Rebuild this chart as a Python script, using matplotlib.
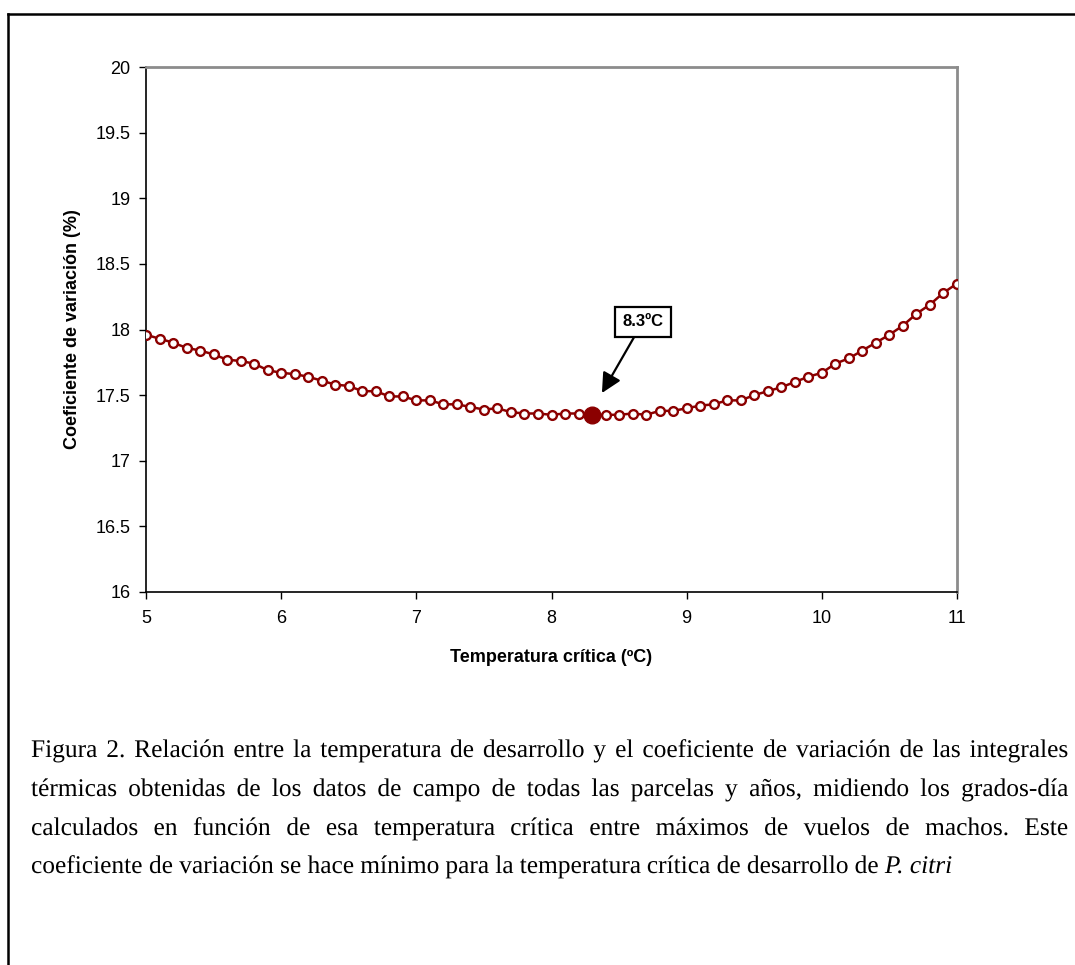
import matplotlib
matplotlib.use("Agg")
import matplotlib.pyplot as plt
import matplotlib.patheffects as pe
from matplotlib.lines import Line2D
from matplotlib.ticker import FuncFormatter
import numpy as np

# critical temperature (ºC) and coefficient of variation (%) of the thermal integrals
temp = [5.0, 5.1, 5.2, 5.3, 5.4, 5.5, 5.6, 5.7, 5.8, 5.9,
        6.0, 6.1, 6.2, 6.3, 6.4, 6.5, 6.6, 6.7, 6.8, 6.9,
        7.0, 7.1, 7.2, 7.3, 7.4, 7.5, 7.6, 7.7, 7.8, 7.9,
        8.0, 8.1, 8.2, 8.3, 8.4, 8.5, 8.6, 8.7, 8.8, 8.9,
        9.0, 9.1, 9.2, 9.3, 9.4, 9.5, 9.6, 9.7, 9.8, 9.9,
        10.0, 10.1, 10.2, 10.3, 10.4, 10.5, 10.6, 10.7, 10.8, 10.9, 11.0]
cv = [17.96, 17.93, 17.90, 17.86, 17.84, 17.81, 17.77, 17.76, 17.74, 17.69,
      17.67, 17.66, 17.64, 17.61, 17.58, 17.57, 17.53, 17.53, 17.49, 17.49,
      17.46, 17.46, 17.43, 17.43, 17.41, 17.39, 17.40, 17.37, 17.36, 17.36,
      17.35, 17.36, 17.36, 17.35, 17.35, 17.35, 17.36, 17.35, 17.38, 17.38,
      17.40, 17.42, 17.43, 17.46, 17.46, 17.50, 17.53, 17.56, 17.60, 17.64,
      17.67, 17.74, 17.78, 17.84, 17.90, 17.96, 18.03, 18.12, 18.19, 18.28, 18.35]

# minimum of the curve
t_min = 8.3
cv_min = 17.35

xticks = [5, 6, 7, 8, 9, 10, 11]
yticks = [16, 16.5, 17, 17.5, 18, 18.5, 19, 19.5, 20]

caption = [
    "Figura 2. Relación entre la temperatura de desarrollo y el coeficiente de variación de las integrales",
    "térmicas obtenidas de los datos de campo de todas las parcelas y años, midiendo los grados-día",
    "calculados en función de esa temperatura crítica entre máximos de vuelos de machos. Este",
]
caption_last = "coeficiente de variación se hace mínimo para la temperatura crítica de desarrollo de"
caption_species = "P. citri"

red = "#8B0000"

fig = plt.figure(figsize=(10.75, 9.65), dpi=100)
W, H = 1075, 965
ax = fig.add_axes([146 / W, 1 - 592 / H, (957 - 146) / W, (592 - 67) / H])

ax.plot(temp, cv, color=red, lw=1.8, marker="o", ms=6.3, mfc="white",
        mec=red, mew=1.7, zorder=3)
ax.plot([t_min], [cv_min], "o", color=red, ms=12, zorder=4)

ax.annotate("8.3ºC", xy=(8.373, 17.516), xytext=(8.677, 18.06),
            ha="center", va="center", fontsize=12, fontweight="bold",
            family="Liberation Sans",
            bbox=dict(boxstyle="square,pad=0.45", fc="white", ec="black", lw=1.6),
            arrowprops=dict(arrowstyle="-|>", color="black", lw=1.6,
                            mutation_scale=30, shrinkA=0, shrinkB=0))

ax.set_xlim(5, 11)
ax.set_ylim(16, 20)
ax.set_xticks(xticks)
ax.set_yticks(yticks)
ax.yaxis.set_major_formatter(FuncFormatter(lambda v, p: "%g" % v))
ax.tick_params(direction="out", length=5, width=1, labelsize=13, pad=6)
ax.tick_params(axis="x", pad=8)
for lab in ax.get_xticklabels() + ax.get_yticklabels():
    lab.set_family("Liberation Sans")

for side in ("top", "right"):
    ax.spines[side].set_color("#8c8c8c")
    ax.spines[side].set_linewidth(2)
for side in ("left", "bottom"):
    ax.spines[side].set_color("black")
    ax.spines[side].set_linewidth(1.2)

ax.set_xlabel("Temperatura crítica (ºC)", fontsize=13, fontweight="bold",
              family="Liberation Sans")
ax.set_ylabel("Coeficiente de variación (%)", fontsize=13, fontweight="bold",
              family="Liberation Sans")
ax.xaxis.set_label_coords(0.5, -0.108)
ax.yaxis.set_label_coords(-0.080, 0.5)

# page frame lines
fig.add_artist(Line2D([8 / W, 1], [1 - 14 / H, 1 - 14 / H], color="black", lw=1.8,
                      transform=fig.transFigure))
fig.add_artist(Line2D([8 / W, 8 / W], [1 - 14 / H, 0], color="black", lw=1.8,
                      transform=fig.transFigure))

# justified caption, one Text per word; drawn as paths so all words share a baseline
renderer = fig.canvas.get_renderer()
cap_size = 18.3
left, right = 31, 1068
space = 0.25 * cap_size * 100 / 72


def put_line(words, y_px, justify):
    arts = []
    for w, style in words:
        arts.append(fig.text(0, 1 - y_px / H, w, fontsize=cap_size,
                             family="Liberation Serif", style=style,
                             va="baseline", ha="left",
                             path_effects=[pe.Normal()]))
    widths = [a.get_window_extent(renderer).width for a in arts]
    gap = (right - left - sum(widths)) / (len(arts) - 1) if justify else space
    x = left
    for a, w in zip(arts, widths):
        a.set_x(x / W)
        x += w + gap


baselines = [757, 796, 835, 873]
for line, yb in zip(caption, baselines):
    put_line([(w, "normal") for w in line.split()], yb, True)
last = [(w, "normal") for w in caption_last.split()]
last += [(w, "italic") for w in caption_species.split()]
put_line(last, baselines[3], False)

fig.savefig("out.png", dpi=100, facecolor="white")
